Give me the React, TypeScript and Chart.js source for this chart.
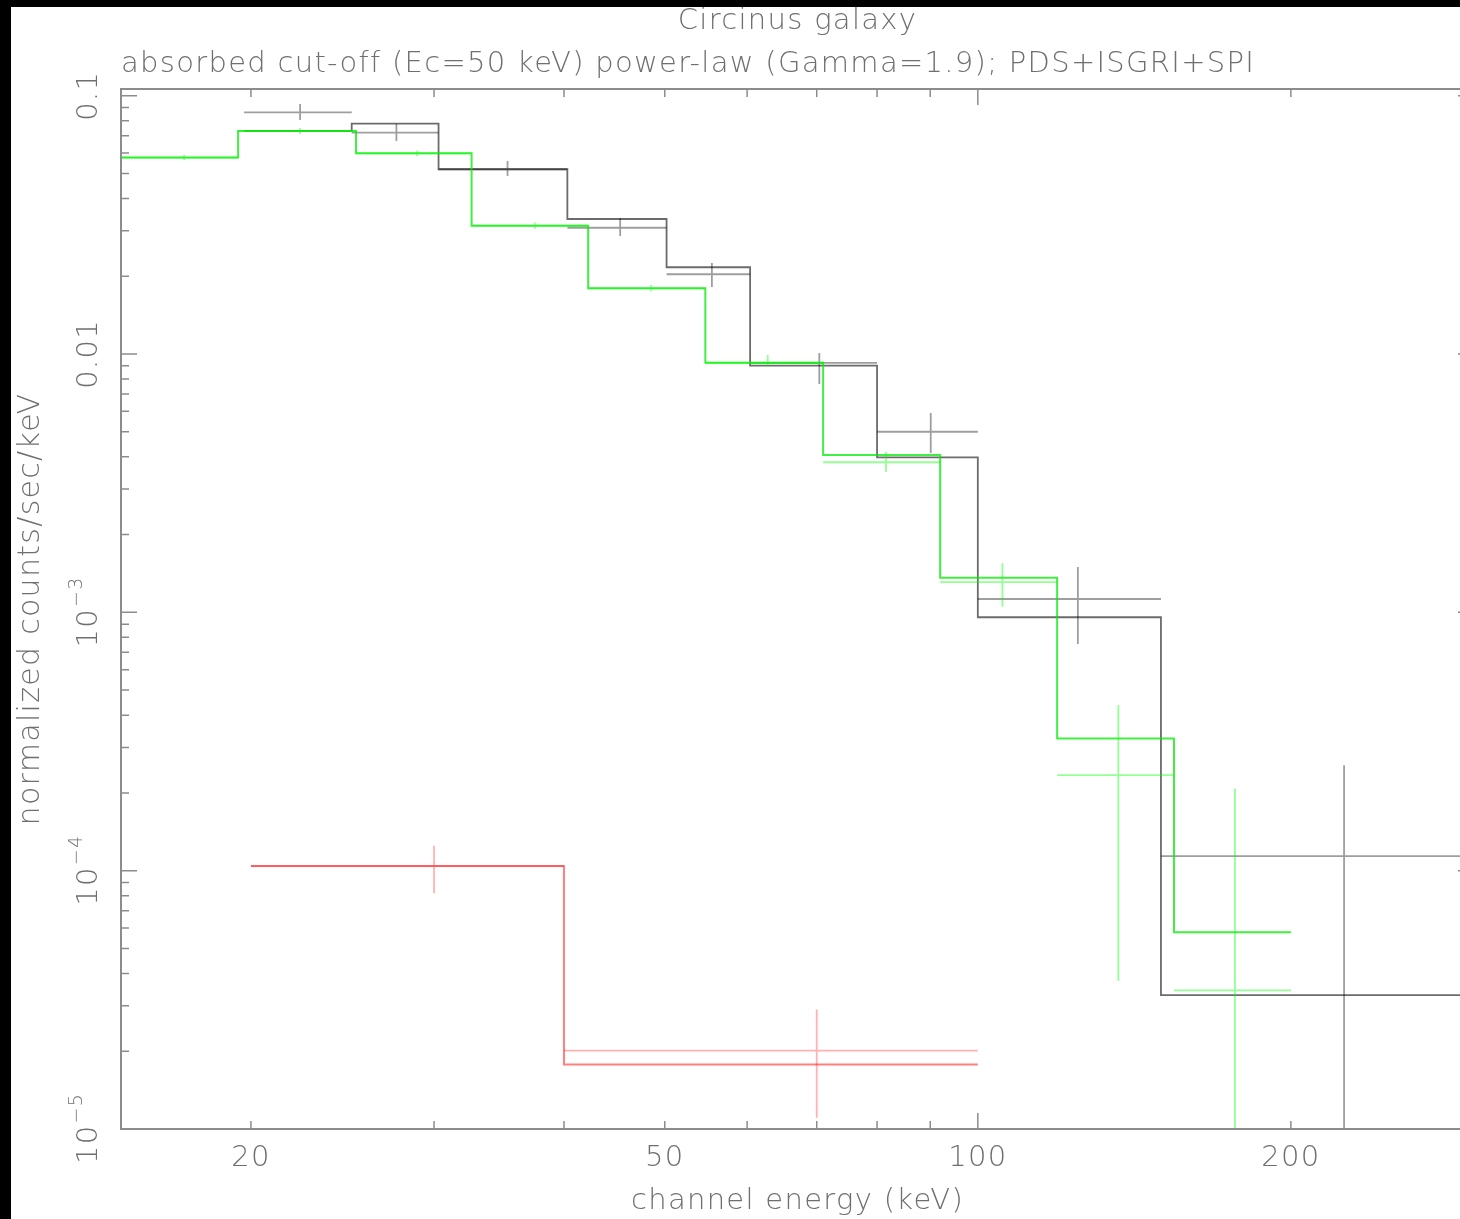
import React, { useEffect, useRef } from 'react';
import { Chart, registerables } from 'chart.js';

Chart.register(...registerables);

// ---------- text ----------
const TITLE = 'Circinus galaxy';
const SUBTITLE = 'absorbed cut-off (Ec=50 keV) power-law (Gamma=1.9); PDS+ISGRI+SPI';
const X_TITLE = 'channel energy (keV)';
const Y_TITLE = 'normalized counts/sec/keV';

// ---------- axes ----------
const xRange = [15, 300];
const yRange = [1e-5, 0.1061];

const xTickLabelValues = [20, 50, 100, 200];
const xTickLabels = ['20', '50', '100', '200'];
const xMajorTicks = [100];
const xMinorTicks = [20, 30, 40, 50, 60, 70, 80, 90, 200];

const yTickValues = [0.1, 0.01, 1e-3, 1e-4, 1e-5];
const yTickBase = ['0.1', '0.01', '10', '10', '10'];
const yTickExp = ['', '', '\u22123', '\u22124', '\u22125'];

// ---------- PDS (black) ----------
const pdsLo = [19.7, 25.0, 30.3, 40.3, 50.2, 60.4, 80, 100, 150];
const pdsHi = [25.0, 30.3, 40.3, 50.2, 60.4, 80, 100, 150, 300];
const pdsE = [22.3, 27.6, 35.3, 45.3, 55.5, 70.4, 90.1, 124.8, 225];
const pdsRate = [0.0862, 0.0719, 0.0519, 0.0308, 0.02035, 0.00923, 0.005, 0.001126, 1.138e-4];
const pdsErrLo = [0.0805, 0.0668, 0.0489, 0.0286, 0.01817, 0.00765, 0.00414, 0.000754, 5e-6];
const pdsErrHi = [0.0929, 0.0777, 0.0559, 0.0336, 0.0225, 0.01009, 0.00591, 0.001497, 2.56e-4];
const pdsModel = [0.073, 0.0779, 0.0519, 0.0333, 0.02166, 0.00901, 0.00398, 0.000957, 3.3e-5];

// ---------- ISGRI (green) ----------
const isgriLo = [15, 19.44, 25.24, 32.6, 42.2, 54.7, 71.0, 92.0, 119.2, 154.4];
const isgriHi = [19.44, 25.24, 32.6, 42.2, 54.7, 71.0, 92.0, 119.2, 154.4, 200.1];
const isgriE = [17.25, 22.3, 28.9, 37.5, 48.5, 62.8, 81.6, 105.6, 136.5, 176.7];
const isgriRate = [0.0576, 0.073, 0.0598, 0.03138, 0.01796, 0.00925, 0.00381, 0.00131, 2.345e-4, 3.44e-5];
const isgriErrLo = [0.0564, 0.0711, 0.0584, 0.0305, 0.0175, 0.00893, 0.00349, 0.001051, 3.74e-5, 5e-6];
const isgriErrHi = [0.0589, 0.075, 0.0613, 0.0323, 0.0185, 0.00991, 0.00418, 0.001548, 4.38e-4, 2.08e-4];
const isgriModel = [0.0576, 0.073, 0.0598, 0.03138, 0.01796, 0.00925, 0.00406, 0.001361, 3.25e-4, 5.77e-5];

// ---------- SPI (red) ----------
const spiLo = [20, 40];
const spiHi = [40, 100];
const spiE = [30, 70];
const spiRate = [1.042e-4, 2.01e-5];
const spiErrLo = [8.17e-5, 1.105e-5];
const spiErrHi = [1.248e-4, 2.9e-5];
const spiModel = [1.042e-4, 1.778e-5];

// ---------- style ----------
const FONT = "'DejaVu Sans', sans-serif";
const TEXT_COLOR = '#6f6f6f';
const AXIS_COLOR = '#8c8c8c';
const LETTER_SPACING = '1.3px';

type P = { x: number; y: number | null };

const stepPoints = (lo: number[], hi: number[], m: number[]): P[] =>
  lo.flatMap((l, i) => [
    { x: l, y: m[i] },
    { x: hi[i], y: m[i] },
  ]);

const crossPoints = (
  lo: number[],
  hi: number[],
  e: number[],
  r: number[],
  el: number[],
  eh: number[]
): P[] =>
  lo.flatMap((l, i) => [
    { x: l, y: r[i] },
    { x: hi[i], y: r[i] },
    { x: e[i], y: null },
    { x: e[i], y: el[i] },
    { x: e[i], y: eh[i] },
    { x: e[i], y: null },
  ]);

const line = (label: string, data: P[], color: string, width: number) => ({
  label,
  data,
  borderColor: color,
  backgroundColor: color,
  borderWidth: width,
  pointRadius: 0,
  pointHoverRadius: 0,
  fill: false,
  tension: 0,
  spanGaps: false,
});

const minorDecadeTicks = (lo: number, hi: number) => {
  const out: number[] = [];
  for (let k = Math.floor(Math.log10(lo)) - 1; k <= Math.ceil(Math.log10(hi)); k++) {
    for (let m = 2; m <= 9; m++) {
      const v = m * Math.pow(10, k);
      if (v > lo && v < hi) out.push(v);
    }
  }
  return out;
};

const framePlugin = {
  id: 'pgframe',
  beforeDraw(chart: any) {
    const ctx = chart.ctx as any;
    if ('letterSpacing' in ctx) ctx.letterSpacing = LETTER_SPACING;
  },
  afterDatasetsDraw(chart: any) {
    const { ctx, chartArea: a, scales } = chart;
    const x = scales.x;
    const y = scales.y;
    ctx.save();
    ctx.strokeStyle = AXIS_COLOR;
    ctx.lineWidth = 2;
    ctx.strokeRect(a.left, a.top, a.right - a.left, a.bottom - a.top);
    ctx.lineWidth = 1.5;
    ctx.beginPath();
    const xt = [
      ...xMajorTicks.map((v) => [v, 16]),
      ...xMinorTicks.map((v) => [v, 8]),
    ];
    xt.forEach(([v, len]) => {
      const px = x.getPixelForValue(v);
      ctx.moveTo(px, a.bottom);
      ctx.lineTo(px, a.bottom - len);
      ctx.moveTo(px, a.top);
      ctx.lineTo(px, a.top + len);
    });
    const yt = [
      ...yTickValues.map((v) => [v, 16]),
      ...minorDecadeTicks(yRange[0], yRange[1]).map((v) => [v, 8]),
    ];
    yt.forEach(([v, len]) => {
      const py = y.getPixelForValue(v);
      ctx.moveTo(a.left, py);
      ctx.lineTo(a.left + len, py);
      ctx.moveTo(a.right, py);
      ctx.lineTo(a.right - len, py);
    });
    ctx.stroke();

    // y tick labels (rotated, with superscript exponents)
    ctx.fillStyle = TEXT_COLOR;
    ctx.textBaseline = 'middle';
    ctx.textAlign = 'left';
    const baseFont = `200 29px ${FONT}`;
    const expFont = `200 19px ${FONT}`;
    yTickValues.forEach((v, i) => {
      const py = y.getPixelForValue(v);
      ctx.save();
      ctx.translate(a.left - 32, py);
      ctx.rotate(-Math.PI / 2);
      ctx.font = baseFont;
      const wb = ctx.measureText(yTickBase[i]).width;
      ctx.font = expFont;
      const we = yTickExp[i] ? ctx.measureText(yTickExp[i]).width : 0;
      const start = -(wb + we) / 2;
      ctx.font = baseFont;
      ctx.fillText(yTickBase[i], start, 0);
      if (yTickExp[i]) {
        ctx.font = expFont;
        ctx.fillText(yTickExp[i], start + wb + 1, -12);
      }
      ctx.restore();
    });
    ctx.restore();
  },
};

export default function App() {
  const ref = useRef<HTMLCanvasElement | null>(null);

  useEffect(() => {
    if (!ref.current) return;
    const font = { family: FONT, size: 29, weight: '200' as any };
    const chart = new Chart(ref.current, {
      type: 'line',
      data: {
        datasets: [
          line('ISGRI data', crossPoints(isgriLo, isgriHi, isgriE, isgriRate, isgriErrLo, isgriErrHi), 'rgba(0,255,0,0.42)', 1.8),
          line('ISGRI model', stepPoints(isgriLo, isgriHi, isgriModel), 'rgba(0,235,0,0.75)', 2),
          line('SPI data', crossPoints(spiLo, spiHi, spiE, spiRate, spiErrLo, spiErrHi), 'rgba(255,0,0,0.3)', 1.8),
          line('SPI model', stepPoints(spiLo, spiHi, spiModel), 'rgba(255,0,0,0.5)', 2),
          line('PDS data', crossPoints(pdsLo, pdsHi, pdsE, pdsRate, pdsErrLo, pdsErrHi), 'rgba(0,0,0,0.38)', 1.8),
          line('PDS model', stepPoints(pdsLo, pdsHi, pdsModel), 'rgba(0,0,0,0.58)', 1.8),
        ] as any,
      },
      options: {
        animation: false,
        responsive: false,
        devicePixelRatio: 1,
        events: [],
        layout: { padding: 0 },
        plugins: {
          legend: { display: false },
          tooltip: { enabled: false },
          title: {
            display: true,
            text: TITLE,
            fullSize: false,
            align: 'center',
            color: TEXT_COLOR,
            font: { ...font, lineHeight: 1 },
            padding: { top: 0, bottom: 0 },
          },
          subtitle: {
            display: true,
            text: SUBTITLE,
            fullSize: false,
            align: 'start',
            color: TEXT_COLOR,
            font: { ...font, lineHeight: 1 },
            padding: { top: 13.5, bottom: 10.5 },
          },
        },
        scales: {
          x: {
            type: 'logarithmic',
            position: 'bottom',
            min: xRange[0],
            max: xRange[1],
            grid: { display: false, drawTicks: false, tickLength: 0 },
            border: { display: false },
            ticks: {
              autoSkip: false,
              maxRotation: 0,
              minRotation: 0,
              padding: 12,
              color: TEXT_COLOR,
              font,
              callback: (_v: any, i: number) => xTickLabels[i],
            },
            afterBuildTicks: (s: any) => {
              s.ticks = xTickLabelValues.map((v) => ({ value: v }));
            },
            afterFit: (s: any) => {
              s.height = 90;
            },
            title: {
              display: true,
              text: X_TITLE,
              color: TEXT_COLOR,
              font,
              padding: { top: 0, bottom: 0 },
            },
          },
          y: {
            type: 'logarithmic',
            position: 'left',
            min: yRange[0],
            max: yRange[1],
            grid: { display: false, drawTicks: false, tickLength: 0 },
            border: { display: false },
            ticks: { display: false },
            afterFit: (s: any) => {
              s.width = 110;
            },
            title: {
              display: true,
              text: Y_TITLE,
              color: TEXT_COLOR,
              font: { ...font, size: 30 },
              padding: { top: 2.5, bottom: 0 },
            },
          },
        },
      } as any,
      plugins: [framePlugin],
    });
    return () => chart.destroy();
  }, []);

  return (
    <div
      style={{
        position: 'fixed',
        left: 0,
        top: 0,
        width: 1460,
        height: 1219,
        background: '#000',
        overflow: 'hidden',
      }}
    >
      <canvas
        ref={ref}
        width={1463}
        height={1212}
        style={{
          position: 'absolute',
          left: 11,
          top: 7,
          width: 1463,
          height: 1212,
          background: '#fff',
        }}
      />
    </div>
  );
}
